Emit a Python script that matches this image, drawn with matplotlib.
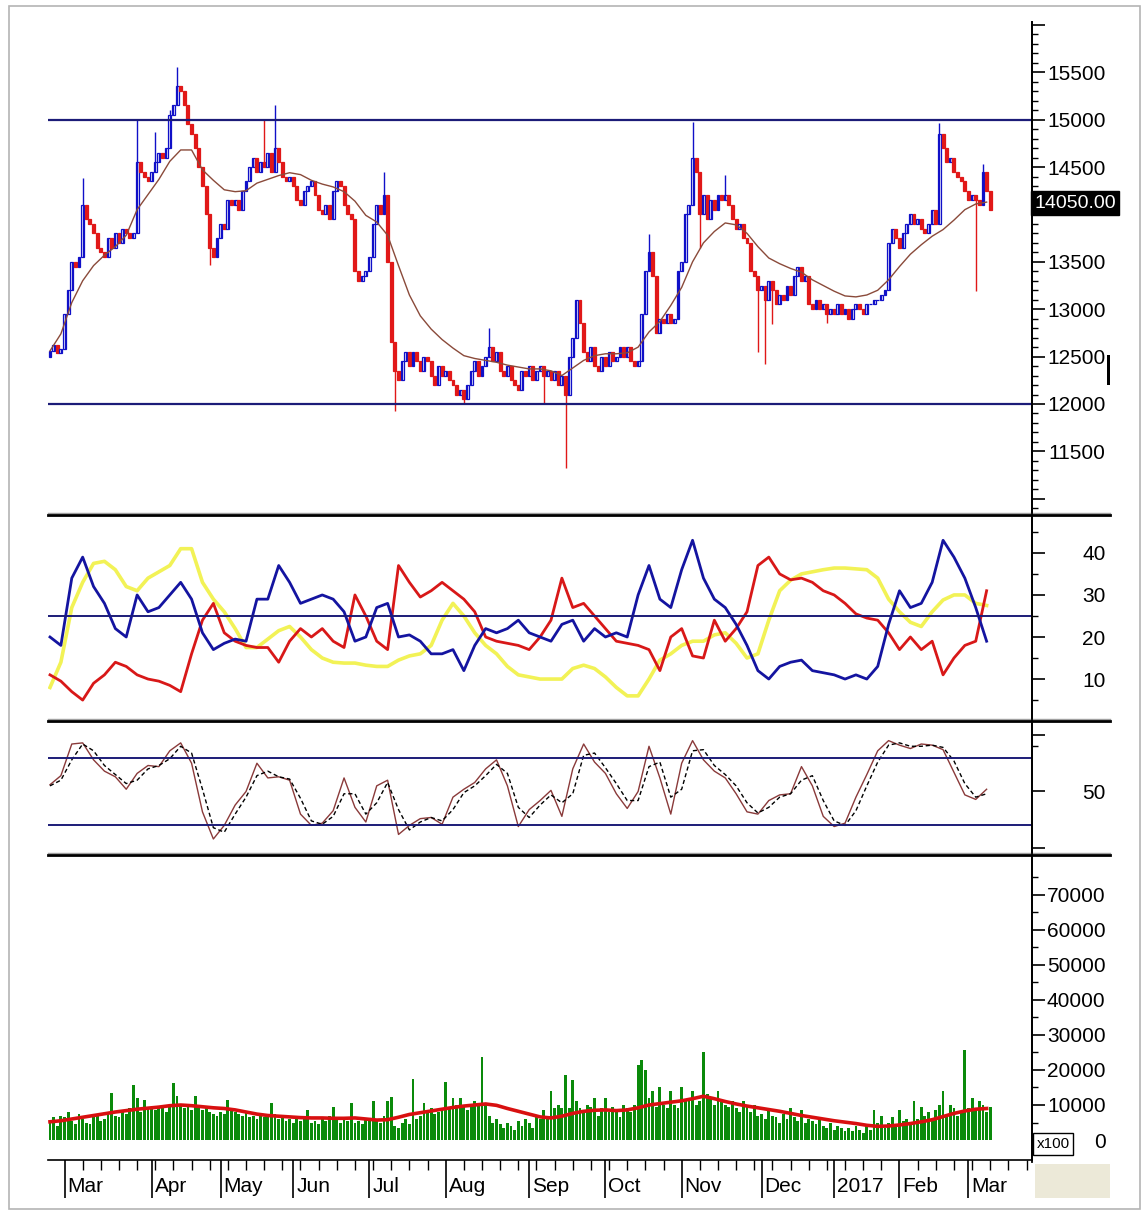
import numpy as np
import matplotlib
matplotlib.use('Agg')
import matplotlib.pyplot as plt
from matplotlib.lines import Line2D
from matplotlib.patches import Rectangle
from matplotlib.ticker import FixedLocator, FuncFormatter

plt.rcParams['font.family'] = ['Liberation Sans Narrow', 'Liberation Sans', 'DejaVu Sans']

# daily closes, Mar 2016 - Mar 2017
close = [
    12560, 12620, 12540, 12580, 12950, 13200, 13500, 13450, 13550, 14100,
    13950, 13900, 13800, 13650, 13600, 13550, 13750, 13650, 13800, 13700,
    13850, 13800, 13750, 13800, 14550, 14450, 14400, 14350, 14450, 14550,
    14650, 14600, 14700, 15050, 15150, 15350, 15300, 15150, 14950, 14850,
    14700, 14500, 14300, 14000, 13650, 13550, 13750, 13900, 13850, 14150,
    14100, 14150, 14050, 14250, 14350, 14500, 14600, 14450, 14550, 14500,
    14650, 14450, 14700, 14550, 14400, 14350, 14400, 14300, 14150, 14100,
    14250, 14300, 14350, 14200, 14050, 14000, 14100, 13950, 14250, 14350,
    14300, 14100, 14000, 13950, 13400, 13300, 13350, 13400, 13550, 13900,
    14100, 14000, 14200, 13500, 12650, 12350, 12250, 12450, 12550, 12400,
    12550, 12450, 12350, 12500, 12450, 12300, 12200, 12400, 12300, 12350,
    12250, 12200, 12100, 12150, 12050, 12200, 12350, 12450, 12300, 12400,
    12500, 12600, 12450, 12550, 12350, 12300, 12400, 12250, 12200, 12150,
    12350, 12300, 12400, 12250, 12350, 12400, 12300, 12350, 12250, 12350,
    12200, 12300, 12100, 12500, 12700, 13100, 12850, 12550, 12450, 12600,
    12400, 12350, 12500, 12400, 12550, 12450, 12500, 12600, 12500, 12600,
    12450, 12400, 12450, 12950, 13400, 13600, 13350, 12750, 12900, 12850,
    12950, 12850, 12900, 13400, 13500, 14000, 14100, 14600, 14450, 14000,
    14200, 13950, 14150, 14050, 14200, 14150, 14200, 14100, 13950, 13850,
    13900, 13750, 13700, 13400, 13350, 13200, 13250, 13100, 13300, 13200,
    13050, 13150, 13100, 13250, 13150, 13350, 13450, 13300, 13350, 13050,
    13000, 13100, 13000, 13050, 12950, 13000, 12950, 13050, 12950, 13000,
    12900, 13000, 13050, 13000, 12950, 13050, 13050, 13100, 13100, 13150,
    13200, 13700, 13850, 13750, 13650, 13800, 13900, 14000, 13900, 13950,
    13850, 13800, 13900, 14050, 13900, 14850, 14700, 14550, 14600, 14450,
    14400, 14350, 14250, 14150, 14200, 14150, 14100, 14450, 14250, 14050,
]
first_open = 12500
spike_high = {9: 14380, 24: 15000, 29: 14870, 33: 15100, 35: 15550, 59: 15000,
              62: 15150, 92: 14450, 121: 12800, 165: 13790, 177: 14980,
              186: 14420, 245: 14960, 257: 14530}
spike_low = {44: 13470, 95: 11930, 114: 12000, 136: 12000, 142: 11330,
             179: 13650, 195: 12550, 197: 12420, 199: 12840, 214: 12850,
             255: 13190}

# indicators, every third trading day
price_ma = [
    12560, 12740, 13070, 13300, 13460, 13570, 13660, 13780, 14050, 14210,
    14370, 14560, 14680, 14680, 14470, 14360, 14260, 14240, 14250, 14330,
    14370, 14410, 14440, 14420, 14360, 14320, 14290, 14240, 14140, 13990,
    13920, 13780, 13460, 13150, 12930, 12790, 12680, 12590, 12510, 12480,
    12460, 12440, 12410, 12390, 12370, 12370, 12350, 12300, 12380, 12460,
    12510, 12530, 12530, 12540, 12600, 12760, 12870, 13040, 13230, 13500,
    13700, 13820, 13910, 13890, 13800, 13660, 13540, 13480, 13430, 13390,
    13310, 13250, 13190, 13140, 13130, 13150, 13200, 13310, 13450, 13580,
    13680, 13770, 13840, 13940, 14050, 14110, 14130,
]
di_plus = [
    20, 18, 34, 39, 32, 28, 22, 20, 30, 26,
    27, 30, 33, 29, 21, 17, 18.5, 19.5, 19, 29,
    29, 37, 33, 28, 29, 30, 29, 26, 19, 20,
    27, 28, 20, 20.5, 19, 16, 16, 17, 12, 18,
    22, 21, 22, 24, 21, 20, 19, 23, 24, 19,
    22, 20, 21, 20, 30, 37, 29, 27, 36, 43,
    34, 29, 27, 23, 18, 12, 10, 13, 14, 14.5,
    12, 11.5, 11, 10, 11, 10, 13, 23, 31, 27,
    28, 33, 43, 39, 34, 27, 19,
]
di_minus = [
    11, 9.5, 7, 5, 9, 11, 14, 13, 11, 10,
    9.5, 8.5, 7, 16, 24, 28, 21, 19, 18, 17.5,
    17.5, 14, 19, 22, 20, 22, 19, 17.5, 30, 25,
    19, 17, 37, 33, 29.5, 31, 33, 31, 29, 26,
    20, 19, 18.5, 18, 17, 20, 24, 34, 27, 28,
    25, 22, 19, 18.5, 18, 17, 12, 20, 22, 15.5,
    15, 24, 19, 22, 26, 37, 39, 35, 33.6, 34,
    33, 31, 30, 28, 25.5, 24.5, 24, 21, 17, 20,
    17, 19, 11, 15, 18, 19, 31,
]
adx = [
    8, 14, 27, 33, 37.5, 38, 36, 32, 31, 34,
    35.5, 37, 41, 41, 33, 29, 26, 22, 17.5, 17.5,
    19.5, 21.5, 22.5, 20, 17, 15, 14, 13.8, 13.8, 13.3,
    13, 13, 14.5, 15.5, 16, 18, 24, 28, 25, 21,
    18, 16, 13, 11, 10.5, 10, 10, 10, 12.5, 13.3,
    12.5, 10.5, 8, 6, 6, 10, 14.5, 16, 18, 19,
    19, 20.5, 21, 18.5, 15, 16, 24, 31, 33.5, 35,
    35.5, 36, 36.4, 36.4, 36.2, 36, 34, 29, 26, 23.5,
    22.5, 26, 28.8, 30, 30, 28, 27.5,
]
stoch_k = [
    56, 64, 92, 93, 78, 68, 63, 52, 66, 73,
    72, 86, 93, 75, 32, 8, 20, 38, 50, 75,
    62, 63, 60, 30, 20, 22, 33, 62, 36, 23,
    55, 60, 12, 20, 26, 27, 21, 45, 52, 58,
    70, 78, 55, 19, 34, 42, 51, 28, 70, 92,
    76, 66, 48, 35, 50, 90, 62, 30, 75, 95,
    78, 68, 62, 48, 32, 30, 42, 47, 48, 72,
    55, 28, 19, 22, 45, 65, 86, 95, 91, 88,
    92, 91, 87, 67, 47, 43, 52,
]
stoch_d = [
    55, 60, 78, 92, 86, 73, 65, 57, 60, 70,
    73, 79, 90, 84, 52, 18, 14, 30, 45, 64,
    68, 63, 61, 44, 24, 21, 28, 48, 48, 30,
    40, 58, 34, 16, 23, 27, 24, 34, 49, 55,
    64, 74, 66, 36, 27, 38, 47, 40, 48, 82,
    84, 71, 57, 42, 42, 72, 76, 45, 52, 86,
    87, 73, 65, 55, 40, 31, 36, 45, 48, 60,
    64, 42, 24, 20, 33, 55, 76, 91, 93, 90,
    90, 91, 89, 77, 57, 45, 48,
]
volume = [
    5000, 6500, 4000, 7000, 6500, 8000, 5500, 4500, 7500, 6000,
    5000, 4500, 6500, 7000, 5500, 6000, 8000, 13400, 7000, 6500,
    8000, 7500, 9000, 15700, 12000, 8000, 11400, 9000, 9500, 8500,
    9000, 9500, 8000, 10000, 16300, 12600, 10000, 9000, 9500, 8500,
    12600, 9000, 8500, 9000, 8000, 7500, 7000, 8000, 7500, 11400,
    9000, 8000, 7500, 7000, 8000, 6500, 7000, 6000, 7000, 6500,
    7000, 10500, 7500, 6000, 6500, 5500, 6000, 5000, 6000, 5500,
    6000, 8600, 5000, 5500, 4500, 6000, 5500, 7000, 9500, 6000,
    5000, 6000, 5500, 10500, 5000, 5500, 4500, 6000, 5500, 11000,
    6000, 5000, 7000, 11000, 12400, 4000, 3500, 5000, 6000, 4500,
    17300, 6000, 7000, 10500, 8000, 9000, 7500, 8000, 9000, 16600,
    9000, 12000, 10000, 12000, 10000, 8500, 9500, 11000, 10500, 23700,
    10000, 7000, 5000, 6000, 4500, 3500, 5000, 4000, 3000, 5500,
    4000, 6000, 5000, 3500, 7000, 6000, 8500, 7000, 14000, 9000,
    10000, 9000, 18600, 9000, 17000, 11000, 9000, 8000, 10000, 9500,
    12000, 7000, 9000, 12000, 8000, 9500, 8000, 6500, 10000, 9000,
    8000, 10000, 21400, 22800, 20000, 12000, 14000, 9500, 15000, 10000,
    9000, 14000, 10000, 9000, 15000, 11000, 12000, 14000, 10000, 11000,
    25000, 13000, 12000, 10000, 14000, 11000, 10000, 9500, 11000, 9000,
    8000, 11000, 9500, 8000, 10000, 7000, 7500, 6000, 9000, 7000,
    6500, 5000, 7500, 6000, 9000, 6500, 5500, 8500, 5000, 6000,
    5500, 4500, 6000, 4000, 3500, 5000, 3000, 4000, 3500, 2500,
    3500, 2500, 4000, 3000, 2000, 4500, 3000, 8500, 5000, 7000,
    3500, 5000, 6500, 4500, 8500, 5500, 6000, 5000, 11000, 6000,
    9500, 7000, 8000, 6000, 8500, 10000, 14000, 7000, 10000, 9000,
    7000, 8000, 25700, 9000, 12000, 9000, 11000, 10000, 8000, 9500,
]
volume_ma = [
    5200, 5500, 6000, 6500, 7000, 7500, 8000, 8400, 8800, 9100,
    9400, 9800, 10000, 9800, 9500, 9200, 9000, 8600, 8000, 7400,
    7000, 6800, 6600, 6400, 6300, 6300, 6200, 6200, 6300, 6000,
    5700, 5800, 6500, 7300, 7800, 8300, 8800, 9300, 9700, 10000,
    10300, 9900, 9000, 8200, 7400, 6600, 6300, 6800, 7600, 8200,
    8500, 8600, 8400, 8600, 9200, 10000, 10400, 10800, 11200, 11800,
    12500, 11800, 11000, 10300, 9700, 9200, 8700, 8200, 7600, 7000,
    6500, 6000, 5500, 5100, 4700, 4200, 3900, 4000, 4300, 4700,
    5200, 5800, 6700, 7600, 8300, 8800, 9000,
]
month_days = [4, 28, 47, 67, 88, 109, 132, 153, 174, 196, 216, 234, 253]
month_labels = ['Mar', 'Apr', 'May', 'Jun', 'Jul', 'Aug', 'Sep', 'Oct',
                'Nov', 'Dec', '2017', 'Feb', 'Mar']

days = np.arange(len(close))
grid = np.arange(0, len(close), 3)
close = np.array(close, dtype=float)
opens = np.r_[first_open, close[:-1]]
highs = np.maximum(opens, close)
lows = np.minimum(opens, close)
for d, v in spike_high.items():
    highs[d] = v
for d, v in spike_low.items():
    lows[d] = v
up = close >= opens

W, H = 1148, 1216
fig = plt.figure(figsize=(W / 100, H / 100), dpi=100)
fig.patch.set_facecolor('white')
NAVY = '#1c1c78'


def pane(top, bottom):
    return fig.add_axes([48 / W, 1 - bottom / H, (1032 - 48) / W, (bottom - top) / H])


def style_right(ax, major, minor, fmt):
    for s in ['left', 'top', 'bottom']:
        ax.spines[s].set_visible(False)
    ax.spines['right'].set_linewidth(1.3)
    ax.yaxis.tick_right()
    ax.yaxis.set_major_locator(FixedLocator(major))
    ax.yaxis.set_minor_locator(FixedLocator(minor))
    ax.yaxis.set_major_formatter(FuncFormatter(fmt))
    ax.tick_params(axis='y', which='major', length=9, width=1.2, pad=44,
                   labelsize=15, colors='black')
    ax.tick_params(axis='y', which='minor', length=4.5, width=1)
    plt.setp(ax.get_yticklabels(), ha='right')
    ax.tick_params(axis='x', which='both', bottom=False, labelbottom=False)
    ax.set_xlim(-0.55, 270.5)
    ax.set_facecolor('white')


# price pane
ax1 = pane(22, 513)
ax1.vlines(days, lows, highs, colors=np.where(up, '#1010c8', '#e01818'), lw=1)
ax1.bar(days, np.abs(close - opens), bottom=np.minimum(opens, close), width=0.8,
        color=np.where(up, 'white', '#e81818'),
        edgecolor=np.where(up, '#1010c8', '#e01818'), lw=0.9)
ax1.plot(grid, price_ma, color='#8a4a3a', lw=1)
ax1.axhline(15000, color=NAVY, lw=1.6)
ax1.axhline(12000, color=NAVY, lw=1.6)
ax1.set_ylim(10850, 16030)
# the 14000 label sits under the last-price box
style_right(ax1, np.arange(11000, 16001, 500), np.arange(10900, 16001, 100),
            lambda v, p: '' if v in (11000, 14000, 16000) else '%d' % v)

# DMI / ADX pane
ax2 = pane(518, 719)
ax2.plot(grid, adx, color='#f2f256', lw=2.6)
ax2.plot(grid, di_minus, color='#d81818', lw=2)
ax2.plot(grid, di_plus, color='#1414a0', lw=2)
ax2.axhline(25, color=NAVY, lw=1.4)
ax2.set_ylim(0.5, 48.3)
style_right(ax2, [10, 20, 30, 40], [5, 15, 25, 35, 45], lambda v, p: '%d' % v)

# stochastic pane
ax3 = pane(724, 853)
ax3.plot(grid, stoch_k, color='#8a3a3a', lw=1)
ax3.plot(grid, stoch_d, color='black', lw=1, ls=(0, (3, 2)))
ax3.axhline(80, color=NAVY, lw=1.4)
ax3.axhline(20, color=NAVY, lw=1.4)
ax3.set_ylim(-4.4, 109.7)
style_right(ax3, [0, 50, 100], [90], lambda v, p: '50' if v == 50 else '')

# volume pane
ax4 = pane(858, 1160)
ax4.bar(days, volume, width=0.78, color='#0a8a0a')
ax4.plot(grid, volume_ma, color='#d81010', lw=2.6)
ax4.set_ylim(-5714, 80570)
style_right(ax4, np.arange(0, 70001, 10000), np.arange(5000, 80001, 10000),
            lambda v, p: '%d' % v)
ax4.spines['bottom'].set_visible(True)
ax4.spines['bottom'].set_linewidth(1.2)
ax4.xaxis.set_major_locator(FixedLocator(month_days))
ax4.xaxis.set_minor_locator(FixedLocator(np.arange(4, 271, 5)))
ax4.tick_params(axis='x', which='major', bottom=True, length=27, width=1.2,
                labelbottom=False)
ax4.tick_params(axis='x', which='minor', bottom=True, length=7, width=1)
for d, lab in zip(month_days, month_labels):
    ax4.annotate(lab, xy=(d, 0), xycoords=('data', 'axes fraction'),
                 xytext=(3, -26), textcoords='offset pixels',
                 ha='left', va='center', fontsize=15, annotation_clip=False)

# frame, separators and right-side decorations
fig.add_artist(Rectangle((9 / W, 7 / H), 1131 / W, 1203 / H, transform=fig.transFigure,
                         fill=False, ec='#b4b4b4', lw=1.2))
for y in (515, 721, 855):
    fig.add_artist(Line2D([48 / W, 1110 / W], [1 - (y - 2) / H] * 2, color='#a0a0a0', lw=1))
    fig.add_artist(Line2D([48 / W, 1110 / W], [1 - y / H] * 2, color='black', lw=2))
fig.add_artist(Line2D([1032 / W] * 2, [1 - 22 / H, 1 - 1162 / H], color='black', lw=1.3))
fig.add_artist(Rectangle((1035 / W, 1 - 1198 / H), 75 / W, 34 / H, transform=fig.transFigure,
                         fc='#ece9d8', ec='none'))
fig.add_artist(Rectangle((1107 / W, 1 - 385 / H), 3 / W, 30 / H, transform=fig.transFigure,
                         fc='black', ec='none'))
fig.text(1075 / W, 1 - 203 / H, '14050.00', color='white', fontsize=14,
         ha='center', va='center', zorder=10,
         bbox=dict(fc='black', ec='black', boxstyle='square,pad=0.18'))
fig.text(1053 / W, 1 - 1144 / H, 'x100', color='black', fontsize=11,
         ha='center', va='center', zorder=10,
         bbox=dict(fc='white', ec='black', lw=1, boxstyle='square,pad=0.25'))

fig.savefig('out.png', dpi=100)
